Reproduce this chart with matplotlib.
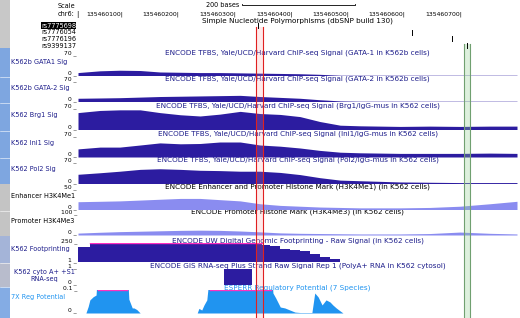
import numpy as np
import matplotlib
matplotlib.use("Agg")
import matplotlib.pyplot as plt

W, H = 520, 318
X0, X1 = 78, 517
BASE = 135460000
START, END = BASE + 20, BASE + 797

FS = 4.7      # left labels
FS_N = 4.3    # scale numbers
FS_T = 5.2    # track titles
FS_K = 4.4    # coordinate ticks
NAVY = '#1c1c8a'
DARK = '#2c1ca0'
LIGHT = '#8a8cf0'
SKY = '#2094f0'
MAGENTA = '#ff30c0'

# header
tick_pos = [100, 200, 300, 400, 500, 600, 700]
snp_names = ['rs7775698', 'rs7776054', 'rs7776196', 'rs9399137']
snp_pos = [339, 611, 682, 708]

# genomic offsets (from BASE) for the wiggle tracks
tfbs_pos = [20, 59, 94, 130, 165, 201, 236, 271, 307, 342, 378,
            413, 448, 484, 519, 555, 590, 643, 696, 749, 797]
gata1 = [10, 16, 18, 17, 12, 11, 10, 10, 9, 8, 7, 6, 4, 1, 1, 1, 1, 1, 1, 1, 1]
gata2 = [11, 12, 13, 15, 17, 18, 19, 20, 21, 17, 14, 11, 6, 2, 1, 1, 1, 1, 1, 1, 1]
brg1 = [55, 62, 64, 64, 55, 48, 44, 50, 59, 52, 49, 42, 26, 14, 12, 11, 10, 11, 10, 11, 11]
ini1 = [27, 33, 33, 40, 47, 44, 45, 50, 50, 40, 36, 30, 22, 16, 14, 13, 12, 12, 12, 13, 12]
pol2 = [30, 35, 40, 46, 48, 46, 43, 42, 40, 40, 36, 29, 19, 11, 9, 7, 5, 4, 3, 3, 3]
h3k4me1 = [19, 20, 21, 23, 25, 27, 27, 24, 21, 14, 10, 8, 6, 5, 4, 4, 4, 5, 8, 14, 20]
h3k4me3 = [9, 13, 16, 18, 20, 22, 23, 22, 19, 15, 10, 8, 7, 6, 5, 5, 5, 7, 14, 8, 5]

foot_pos = [20, 41, 346, 360, 378, 395, 413, 431, 448, 466, 484, 797]
foot_val = [200, 300, 220, 205, 175, 155, 140, 105, 65, 45, 13, 13]

rna_pos = [20, 278, 328, 797]
rna_val = [0, 0.94, 0, 0]

esp_pos = [20, 34, 38, 41, 47, 52, 55, 107, 110, 116, 119, 124, 130, 231, 234,
           239, 243, 248, 254, 362, 365, 370, 378, 386, 395, 404, 413, 434,
           439, 445, 452, 459, 466, 471, 477, 484, 489, 797]
esp_val = [0, 0, 0.028, 0.057, 0.071, 0.078, 0.2, 0.2, 0.06, 0.022, 0.022, 0.015,
           0, 0, 0.02, 0.013, 0.035, 0.057, 0.2, 0.2, 0.087, 0.065, 0.026, 0.022,
           0.013, 0.004, 0.002, 0.002, 0.087, 0.07, 0.035, 0.057, 0.048, 0.035,
           0.022, 0.009, 0, 0]

# label, title, x, y, vmin, vmax, top px, bottom px, fill, text colour, step
tracks = [
    ('K562b GATA1 Sig', 'ENCODE TFBS, Yale/UCD/Harvard ChIP-seq Signal (GATA-1 in K562b cells)',
     tfbs_pos, gata1, 0, 70, 55, 75.5, DARK, NAVY, None),
    ('K562b GATA-2 Sig', 'ENCODE TFBS, Yale/UCD/Harvard ChIP-seq Signal (GATA-2 in K562b cells)',
     tfbs_pos, gata2, 0, 70, 81, 101.5, DARK, NAVY, None),
    ('K562 Brg1 Sig', 'ENCODE TFBS, Yale/UCD/Harvard ChIP-seq Signal (Brg1/IgG-mus in K562 cells)',
     tfbs_pos, brg1, 0, 70, 108, 129.5, DARK, NAVY, None),
    ('K562 Ini1 Sig', 'ENCODE TFBS, Yale/UCD/Harvard ChIP-seq Signal (Ini1/IgG-mus in K562 cells)',
     tfbs_pos, ini1, 0, 70, 136, 157, DARK, NAVY, None),
    ('K562 Pol2 Sig', 'ENCODE TFBS, Yale/UCD/Harvard ChIP-seq Signal (Pol2/IgG-mus in K562 cells)',
     tfbs_pos, pol2, 0, 70, 162, 183.5, DARK, NAVY, None),
    ('Enhancer H3K4Me1', 'ENCODE Enhancer and Promoter Histone Mark (H3K4Me1) (in K562 cells)',
     tfbs_pos, h3k4me1, 0, 50, 189, 209.5, LIGHT, 'black', None),
    ('Promoter H3K4Me3', 'ENCODE Promoter Histone Mark (H3K4Me3) (in K562 cells)',
     tfbs_pos, h3k4me3, 0, 100, 214, 235, LIGHT, 'black', None),
    ('K562 Footprinting', 'ENCODE UW Digital Genomic Footprinting - Raw Signal (in K562 cells)',
     foot_pos, foot_val, 1, 250, 242.5, 262.5, DARK, NAVY, 'post'),
    ('K562 cyto A+ +S1\nRNA-seq', 'ENCODE GIS RNA-seq Plus Strand Raw Signal Rep 1 (PolyA+ RNA in K562 cytosol)',
     rna_pos, rna_val, 0, 1, 268, 285, DARK, NAVY, 'post'),
    ('7X Reg Potential', 'ESPERR Regulatory Potential (7 Species)',
     esp_pos, esp_val, 0, 0.1, 290, 313, SKY, SKY, None),
]


def fmt(v):
    return ('%g' % v)


fig = plt.figure(figsize=(W / 100, H / 100), dpi=100)
bg = fig.add_axes([0, 0, 1, 1])
bg.set_xlim(0, W)
bg.set_ylim(H, 0)
bg.axis('off')

# left side strip
for y0, y1, c in [(0, 48, '#c8c8c8'), (48, 184, '#7ea6e0'), (184, 236, '#c4c4c4'),
                  (236, 263, '#a4b4d8'), (263, 287, '#b8bccc'), (287, H, '#84ace4')]:
    bg.fill_between([0, 10], y0, y1, color=c, lw=0)
for y in [76.5, 103, 131, 158, 210.5, 263, 287]:
    bg.plot([0, 10], [y, y], color='white', lw=0.4)

bg.text(75, 6, 'Scale', fontsize=FS, ha='right', va='center')
bg.text(74, 14, 'chr6:', fontsize=FS, ha='right', va='center')
bg.text(77.5, 14, '|', fontsize=FS, ha='center', va='center')
for i, name in enumerate(snp_names):
    y = 25.5 + i * 6.7
    if i == 0:
        bg.text(76, y, name, fontsize=FS, ha='right', va='center', color='white',
                bbox=dict(boxstyle='square,pad=0.05', fc='black', ec='none'))
    else:
        bg.text(76, y, name, fontsize=FS, ha='right', va='center')

for label, title, pos, vals, vmin, vmax, top, bot, color, tcol, step in tracks:
    if '\n' in label:
        l1, l2 = label.split('\n')
        bg.text(44, top + 4, l1, fontsize=FS, ha='center', va='center', color=tcol)
        bg.text(44, top + 11, l2, fontsize=FS, ha='center', va='center', color=tcol)
    else:
        bg.text(11, top + (bot - top) * 0.32, label, fontsize=FS, ha='left', va='center', color=tcol)
    bg.text(77, top - 1.8, fmt(vmax) + ' _', fontsize=FS_N, ha='right', va='center')
    bg.text(77, bot - 2.8, fmt(vmin) + ' _', fontsize=FS_N, ha='right', va='center')
    bg.text((X0 + X1) / 2, top - 2, title, fontsize=FS_T, ha='center', va='center', color=tcol)

    ax = fig.add_axes([X0 / W, 1 - bot / H, (X1 - X0) / W, (bot - top) / H])
    ax.set_xlim(START, END)
    ax.set_ylim(vmin, vmax)
    ax.axis('off')
    ax.patch.set_alpha(0)
    x = BASE + np.array(pos)
    v = np.array(vals, dtype=float)
    clip = np.where(v > vmax, vmax * 0.985, np.nan)
    if step:
        ax.fill_between(x, v, vmin, step=step, color=color, lw=0)
        ax.step(x, clip, where=step, color=MAGENTA, lw=1.0)
    else:
        ax.fill_between(x, v, vmin, color=color, lw=0)
        ax.plot(x, clip, color=MAGENTA, lw=1.0)
    ax.axhline(vmin, color=color, lw=0.6, alpha=0.8)

# overlay: header ticks, snps, highlights
ov = fig.add_axes([X0 / W, 0, (X1 - X0) / W, 1])
ov.set_xlim(START, END)
ov.set_ylim(H, 0)
ov.axis('off')
ov.patch.set_alpha(0)

for t in tick_pos:
    ov.text(BASE + t, 14, '%d|' % (BASE + t), fontsize=FS_K, ha='right', va='center')
ov.text(BASE + 305, 5, '200 bases', fontsize=FS, ha='right', va='center')
ov.plot([BASE + 310, BASE + 310, BASE + 510, BASE + 510], [3.5, 5, 5, 3.5], color='black', lw=0.6)
ov.text((START + END) / 2, 20.5, 'Simple Nucleotide Polymorphisms (dbSNP build 130)',
        fontsize=FS_T, ha='center', va='center')
for i, p in enumerate(snp_pos):
    y = 25.5 + i * 6.7
    ov.plot([BASE + p, BASE + p], [y - 2.5, y + 2.5], color='black', lw=0.7)

ov.axvspan(BASE + 335, BASE + 347, ymin=0, ymax=1 - 27 / H, fc='#ff9090', alpha=0.18, ec='none')
for p in [335, 347]:
    ov.plot([BASE + p, BASE + p], [27, H], color='#e02020', lw=0.8)
ov.axvspan(BASE + 704, BASE + 713, ymin=0, ymax=1 - 44 / H, fc='#90d090', alpha=0.3, ec='none')
for p in [704, 713]:
    ov.plot([BASE + p, BASE + p], [44, H], color='#70a070', lw=0.8)

fig.savefig('out.png', dpi=100)
